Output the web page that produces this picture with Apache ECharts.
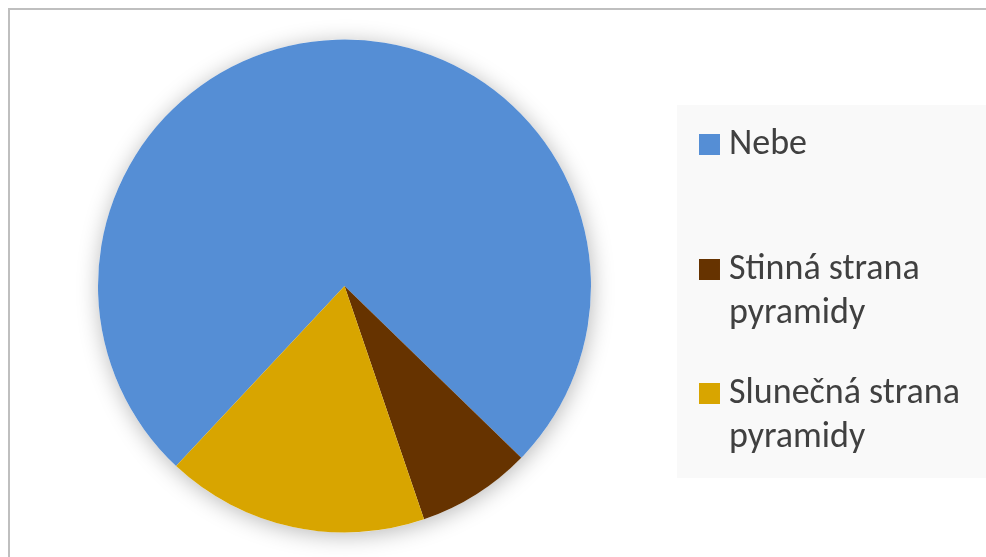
<!DOCTYPE html>
<html>
<head>
<meta charset="utf-8">
<style>
html,body{margin:0;padding:0;background:#fff;}
#chart{width:986px;height:557px;}
</style>
<script src="https://cdn.jsdelivr.net/npm/echarts@6/dist/echarts.min.js"></script>
</head>
<body>
<div id="chart"></div>
<script>
const categories = ['Nebe', 'Stinná strana\npyramidy', 'Slunečná strana\npyramidy'];
const values = [75.3, 7.5, 17.2];
const colors = ['#558ed5', '#663300', '#d8a500'];

const chart = echarts.init(document.getElementById('chart'), null, {renderer: 'canvas'});
const FONT = 'Carlito, Lato, "Open Sans", sans-serif';
const textBase = {color: '#404040', fontFamily: FONT, fontSize: 36, lineHeight: 44};

// marker square 21px at the top-left of the icon box, with an invisible point
// that widens the box (gap to text) and, for two-line items, makes it taller
function iconFor(h) {
  return 'path://M0,0H21V21H0Z M25,' + h + 'h0.01v0.01h-0.01Z';
}

const legendTops = [122.5, 247.5, 371.5];
const legends = categories.map((c, i) => {
  const multi = c.indexOf('\n') >= 0;
  const h = multi ? 65 : 21;
  return {
    orient: 'vertical',
    left: 699,
    top: legendTops[i],
    padding: 0,
    itemWidth: 25,
    itemHeight: h,
    itemGap: 0,
    icon: iconFor(h),
    symbolKeepAspect: false,
    selectedMode: false,
    data: [c],
    textStyle: Object.assign({}, textBase)
  };
});

chart.setOption({
  animation: false,
  graphic: [
    {type: 'rect', shape: {x: 9, y: 9, width: 1200, height: 800}, style: {fill: 'none', stroke: '#bfbfbf', lineWidth: 2}, z: -10},
    {type: 'rect', shape: {x: 677, y: 105, width: 320, height: 373}, style: {fill: '#f9f9f9'}, z: -5}
  ],
  legend: legends,
  series: [
    {
      type: 'pie',
      silent: true,
      center: [344.5, 286],
      radius: [0, 246.5],
      label: {show: false},
      labelLine: {show: false},
      itemStyle: {color: '#ffffff', shadowBlur: 22, shadowColor: 'rgba(0,0,0,0.28)', shadowOffsetX: 1, shadowOffsetY: 3},
      data: [{value: 1, name: '__shadow'}],
      z: 1
    },
    {
      type: 'pie',
      center: [344.5, 286],
      radius: [0, 246.5],
      startAngle: 226.91,
      clockwise: true,
      label: {show: false},
      labelLine: {show: false},
      emphasis: {disabled: true},
      itemStyle: {borderWidth: 0},
      data: categories.map((c, i) => ({name: c, value: values[i], itemStyle: {color: colors[i]}})),
      z: 2
    }
  ]
});
</script>
</body>
</html>
